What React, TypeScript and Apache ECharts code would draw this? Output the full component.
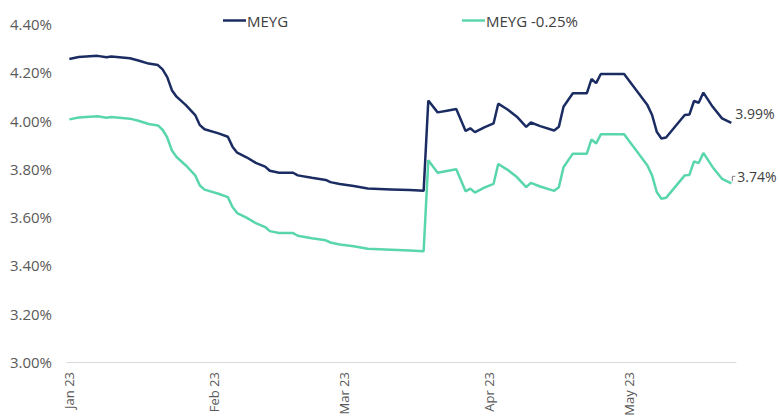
import React, { useEffect, useRef } from "react";
import * as echarts from "echarts";

const dates: string[] = [
  "2023-01-01", "2023-01-03", "2023-01-07", "2023-01-09", "2023-01-10", "2023-01-14",
  "2023-01-16", "2023-01-18", "2023-01-20", "2023-01-21", "2023-01-22", "2023-01-23",
  "2023-01-24", "2023-01-26", "2023-01-28", "2023-01-29", "2023-01-30", "2023-02-02",
  "2023-02-04", "2023-02-05", "2023-02-06", "2023-02-08", "2023-02-10", "2023-02-12",
  "2023-02-13", "2023-02-15", "2023-02-18", "2023-02-19", "2023-02-22", "2023-02-25",
  "2023-02-26", "2023-02-28", "2023-03-03", "2023-03-06", "2023-03-11", "2023-03-15",
  "2023-03-18", "2023-03-19", "2023-03-21", "2023-03-23", "2023-03-25", "2023-03-27",
  "2023-03-28", "2023-03-29", "2023-03-31", "2023-04-02", "2023-04-03", "2023-04-05",
  "2023-04-07", "2023-04-09", "2023-04-10", "2023-04-12", "2023-04-15", "2023-04-16",
  "2023-04-17", "2023-04-19", "2023-04-22", "2023-04-23", "2023-04-24", "2023-04-25",
  "2023-04-30", "2023-05-05", "2023-05-06", "2023-05-07", "2023-05-08", "2023-05-09",
  "2023-05-13", "2023-05-14", "2023-05-15", "2023-05-16", "2023-05-17", "2023-05-19",
  "2023-05-21", "2023-05-23",
];

const meyg: number[] = [
  4.255, 4.263, 4.268, 4.262, 4.265, 4.258,
  4.248, 4.236, 4.230, 4.212, 4.180, 4.126,
  4.099, 4.064, 4.023, 3.981, 3.964, 3.947,
  3.933, 3.892, 3.867, 3.848, 3.825, 3.809,
  3.792, 3.784, 3.784, 3.773, 3.763, 3.754,
  3.745, 3.737, 3.729, 3.719, 3.715, 3.712,
  3.709, 4.083, 4.034, 4.041, 4.048, 3.957,
  3.968, 3.952, 3.972, 3.988, 4.070, 4.046,
  4.016, 3.974, 3.992, 3.977, 3.959, 3.974,
  4.057, 4.113, 4.113, 4.172, 4.155, 4.193,
  4.193, 4.064, 4.023, 3.954, 3.926, 3.930,
  4.023, 4.025, 4.081, 4.074, 4.116, 4.057,
  4.009, 3.990,
];

const meygLess: number[] = [
  4.005, 4.013, 4.018, 4.012, 4.015, 4.008,
  3.998, 3.986, 3.980, 3.962, 3.930, 3.876,
  3.849, 3.814, 3.773, 3.731, 3.714, 3.697,
  3.683, 3.642, 3.617, 3.598, 3.575, 3.559,
  3.542, 3.534, 3.534, 3.523, 3.513, 3.504,
  3.495, 3.487, 3.479, 3.469, 3.465, 3.462,
  3.459, 3.836, 3.784, 3.791, 3.798, 3.707,
  3.718, 3.702, 3.722, 3.738, 3.820, 3.796,
  3.766, 3.724, 3.742, 3.727, 3.709, 3.724,
  3.807, 3.863, 3.863, 3.922, 3.905, 3.943,
  3.943, 3.814, 3.773, 3.704, 3.676, 3.680,
  3.773, 3.775, 3.831, 3.824, 3.866, 3.807,
  3.759, 3.740,
];

const seriesNames: string[] = ["MEYG", "MEYG -0.25%"];
const monthNames: string[] = ["Jan", "Feb", "Mar", "Apr", "May", "Jun", "Jul", "Aug", "Sep", "Oct", "Nov", "Dec"];

const toTs = (s: string) => {
  const [y, m, d] = s.split("-").map(Number);
  return Date.UTC(y, m - 1, d);
};

export default function App() {
  const ref = useRef<HTMLDivElement>(null);
  useEffect(() => {
    if (!ref.current) return;
    const chart = echarts.init(ref.current, undefined, { renderer: "svg" });
    const font = "'Open Sans', sans-serif";
    const navy = "#1b2c62";
    const teal = "#5ad6ab";
    const navyData = dates.map((d, i) => [toTs(d), meyg[i]]);
    const tealData = dates.map((d, i) => [toTs(d), meygLess[i]]);
    const legendBase = {
      top: 8,
      icon: "rect",
      itemWidth: 23,
      itemHeight: 2.5,
      textStyle: { fontFamily: font, fontSize: 15, color: "#404040", padding: [0, 0, 0, -4] },
    };
    chart.setOption({
      animation: false,
      useUTC: true,
      backgroundColor: "#ffffff",
      grid: { left: 67, right: 43, top: 24, bottom: 57, containLabel: false },
      legend: [
        { ...legendBase, data: [seriesNames[0]], left: 218 },
        { ...legendBase, data: [seriesNames[1]], left: 457 },
      ],
      xAxis: {
        type: "time",
        min: Date.UTC(2022, 11, 31, 12),
        max: Date.UTC(2023, 4, 24),
        splitNumber: 5,
        axisLine: { show: true, lineStyle: { color: "#d9d9d9", width: 1 } },
        axisTick: { show: false },
        splitLine: { show: false },
        axisLabel: {
          rotate: 90,
          margin: 10,
          hideOverlap: false,
          fontFamily: font,
          fontSize: 13,
          color: "#595959",
          formatter: (v: number) => {
            const d = new Date(v);
            if (d.getUTCDate() !== 1 || d.getUTCHours() !== 0) return "";
            return monthNames[d.getUTCMonth()] + " " + String(d.getUTCFullYear()).slice(2);
          },
        },
      },
      yAxis: {
        type: "value",
        min: 3,
        max: 4.4,
        interval: 0.2,
        axisLine: { show: false },
        axisTick: { show: false },
        splitLine: { show: false },
        axisLabel: {
          margin: 15,
          fontFamily: font,
          fontSize: 15,
          color: "#595959",
          formatter: (v: number) => v.toFixed(2) + "%",
        },
      },
      series: [
        {
          name: seriesNames[0],
          type: "line",
          data: navyData,
          symbol: "none",
          lineStyle: { color: navy, width: 2.5 },
          itemStyle: { color: navy },
          endLabel: {
            show: true,
            distance: 4,
            offset: [0, -9],
            fontFamily: font,
            fontSize: 14,
            color: "#404040",
            formatter: (p: any) => Number(p.value[1]).toFixed(2) + "%",
          },
        },
        {
          name: seriesNames[1],
          type: "line",
          data: tealData,
          symbol: "none",
          lineStyle: { color: teal, width: 2.5 },
          itemStyle: { color: teal },
          endLabel: {
            show: true,
            distance: 6,
            offset: [0, -7],
            fontFamily: font,
            fontSize: 14,
            color: "#404040",
            formatter: (p: any) => Number(p.value[1]).toFixed(2) + "%",
          },
        },
      ],
    });
    const last = tealData[tealData.length - 1];
    const p = chart.convertToPixel({ gridIndex: 0 }, last) as number[];
    if (p) {
      chart.setOption({
        graphic: [
          {
            type: "polyline",
            shape: { points: [[p[0] + 1, p[1] - 2], [p[0] + 1, p[1] - 7], [p[0] + 4, p[1] - 7]] },
            style: { stroke: "#7f7f7f", lineWidth: 1, fill: "none" },
          },
        ],
      });
    }
    return () => chart.dispose();
  }, []);
  return <div ref={ref} style={{ position: "absolute", left: 0, top: 0, width: 779, height: 419 }} />;
}
